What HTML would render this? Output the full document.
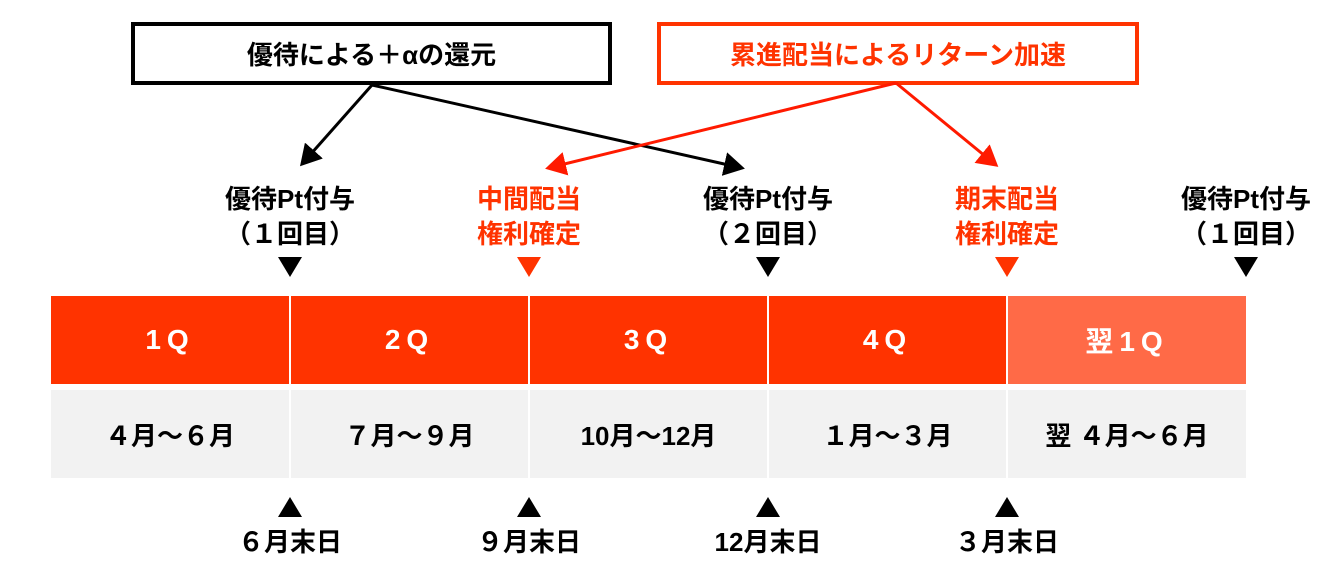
<!DOCTYPE html>
<html><head><meta charset="utf-8"><style>
body{margin:0;width:1328px;height:577px;background:#fff;position:relative;overflow:hidden;font-family:"Liberation Sans","Noto Sans CJK JP",sans-serif;font-weight:bold}
.t{position:absolute;text-align:center;font-size:26px;line-height:35px;white-space:nowrap;transform:translateX(-50%)}
.box{position:absolute;box-sizing:border-box;display:flex;align-items:center;justify-content:center;font-size:26px}
.cell{position:absolute;display:flex;align-items:center;justify-content:center;font-size:26px}
.q{font-size:28px;letter-spacing:6px}
</style></head><body>
<div class="box" style="left:131px;top:22px;width:481px;height:63px;border:4px solid #000;color:#000">優待による＋αの還元</div>
<div class="box" style="left:657px;top:22px;width:482px;height:63px;border:4px solid #ff3300;color:#ff3300">累進配当によるリターン加速</div>
<svg style="position:absolute;left:0;top:0" width="1328" height="577">
<defs>
<marker id="ab" markerWidth="8" markerHeight="8" refX="6" refY="4" orient="auto" markerUnits="strokeWidth"><path d="M0,0 L7,4 L0,8 z" fill="#000"/></marker>
<marker id="ar" markerWidth="8" markerHeight="8" refX="6" refY="4" orient="auto" markerUnits="strokeWidth"><path d="M0,0 L7,4 L0,8 z" fill="#ff1a00"/></marker>
</defs>
<line x1="372" y1="85" x2="302" y2="164" stroke="#000" stroke-width="3" marker-end="url(#ab)"/>
<line x1="372" y1="85" x2="742" y2="168" stroke="#000" stroke-width="3" marker-end="url(#ab)"/>
<line x1="896" y1="83" x2="548" y2="168" stroke="#ff1a00" stroke-width="3" marker-end="url(#ar)"/>
<line x1="896" y1="83" x2="996" y2="165" stroke="#ff1a00" stroke-width="3" marker-end="url(#ar)"/>
<polygon points="278,257 302,257 290,277" fill="#000"/>
<polygon points="517,257 541,257 529,277" fill="#ff3300"/>
<polygon points="756,257 780,257 768,277" fill="#000"/>
<polygon points="995,257 1019,257 1007,277" fill="#ff3300"/>
<polygon points="1234,257 1258,257 1246,277" fill="#000"/>
<polygon points="278,517 302,517 290,497" fill="#000"/>
<polygon points="517,517 541,517 529,497" fill="#000"/>
<polygon points="756,517 780,517 768,497" fill="#000"/>
<polygon points="995,517 1019,517 1007,497" fill="#000"/>
</svg>
<div class="t" style="left:290px;top:182px">優待Pt付与<br>（１回目）</div>
<div class="t" style="left:529px;top:182px;color:#ff3300">中間配当<br>権利確定</div>
<div class="t" style="left:768px;top:182px">優待Pt付与<br>（２回目）</div>
<div class="t" style="left:1007px;top:182px;color:#ff3300">期末配当<br>権利確定</div>
<div class="t" style="left:1246px;top:182px">優待Pt付与<br>（１回目）</div>
<div class="cell q" style="left:51px;top:296px;width:238px;height:88px;background:#ff3300;color:#fff">1Q</div>
<div class="cell q" style="left:291px;top:296px;width:237px;height:88px;background:#ff3300;color:#fff">2Q</div>
<div class="cell q" style="left:530px;top:296px;width:237px;height:88px;background:#ff3300;color:#fff">3Q</div>
<div class="cell q" style="left:769px;top:296px;width:237px;height:88px;background:#ff3300;color:#fff">4Q</div>
<div class="cell q" style="left:1008px;top:296px;width:238px;height:88px;background:#ff6a47;color:#fff">翌1Q</div>
<div class="cell" style="left:51px;top:390px;width:238px;height:88px;background:#f2f2f2">４月～６月</div>
<div class="cell" style="left:291px;top:390px;width:237px;height:88px;background:#f2f2f2">７月～９月</div>
<div class="cell" style="left:530px;top:390px;width:237px;height:88px;background:#f2f2f2">10月～12月</div>
<div class="cell" style="left:769px;top:390px;width:237px;height:88px;background:#f2f2f2">１月～３月</div>
<div class="cell" style="left:1008px;top:390px;width:238px;height:88px;background:#f2f2f2">翌 ４月～６月</div>
<div class="t" style="left:290px;top:525px">６月末日</div>
<div class="t" style="left:529px;top:525px">９月末日</div>
<div class="t" style="left:768px;top:525px">12月末日</div>
<div class="t" style="left:1007px;top:525px">３月末日</div>
</body></html>
